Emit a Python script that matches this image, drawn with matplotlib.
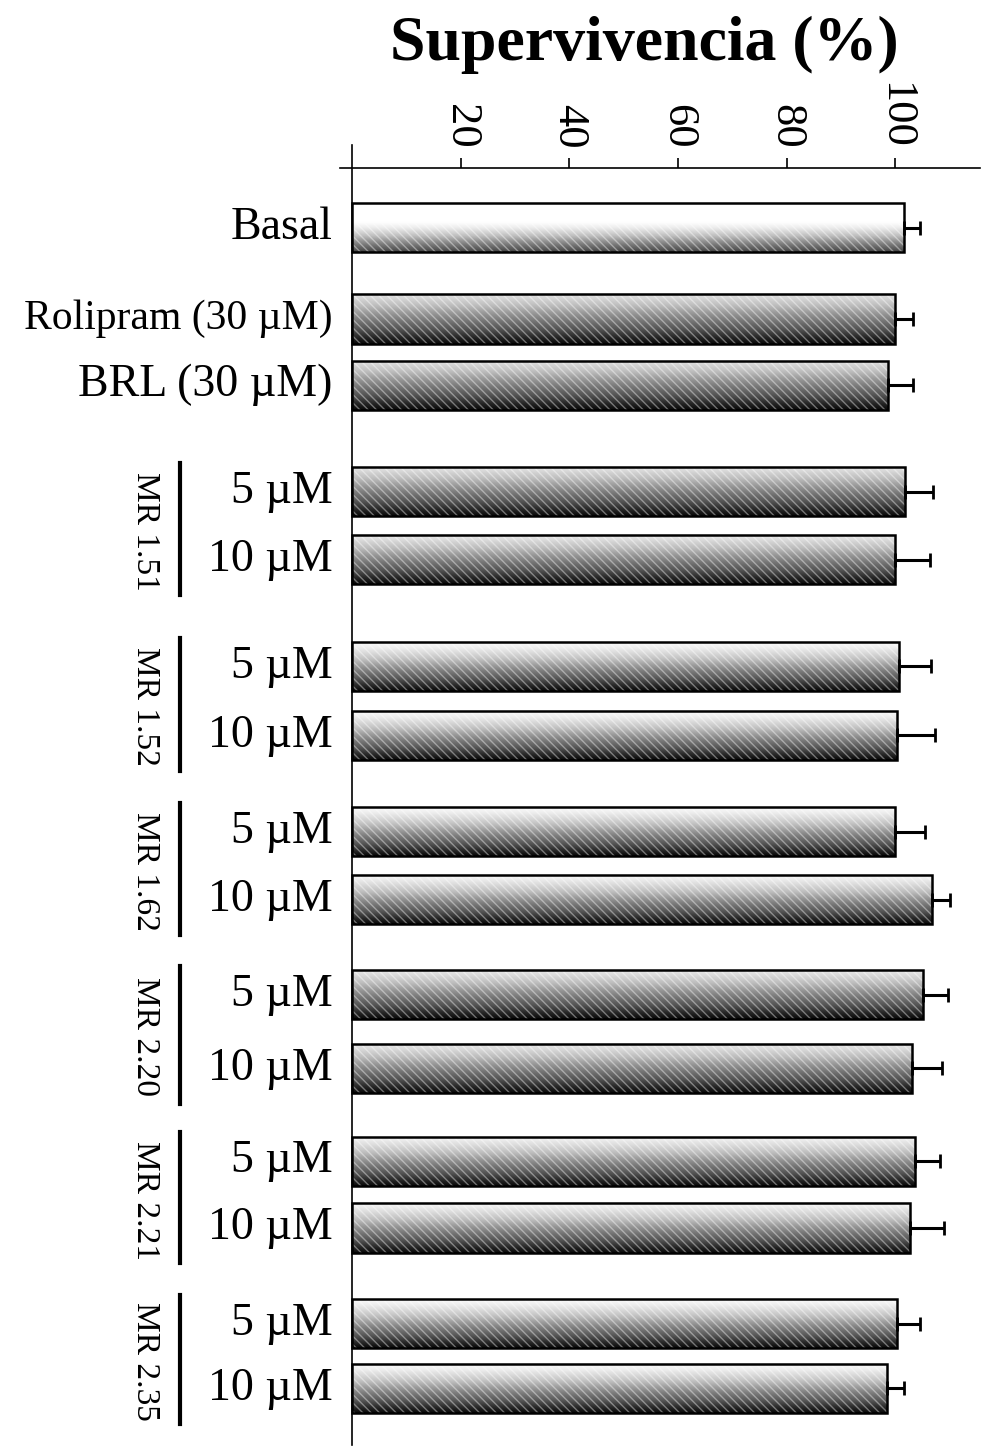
import numpy as np
import matplotlib.pyplot as plt
import matplotlib.transforms as mtransforms

plt.rcParams['font.family'] = ['Liberation Serif', 'DejaVu Serif']
plt.rcParams['hatch.linewidth'] = 1.0

# survival (%) and SEM for each treatment
labels = ['Basal', 'Rolipram (30 \u00b5M)', 'BRL (30 \u00b5M)',
          '5 \u00b5M', '10 \u00b5M', '5 \u00b5M', '10 \u00b5M',
          '5 \u00b5M', '10 \u00b5M', '5 \u00b5M', '10 \u00b5M',
          '5 \u00b5M', '10 \u00b5M', '5 \u00b5M', '10 \u00b5M']
values = [101.6, 100.0, 98.7, 101.8, 100.0, 100.6, 100.4,
          100.0, 106.8, 105.2, 103.1, 103.7, 102.8, 100.4, 98.5]
errors = [3.0, 3.3, 4.6, 5.2, 6.4, 5.9, 7.0,
          5.5, 3.3, 4.6, 5.5, 4.6, 6.1, 4.2, 3.1]
compounds = ['MR 1.51', 'MR 1.52', 'MR 1.62', 'MR 2.20', 'MR 2.21', 'MR 2.35']
xticks = [20, 40, 60, 80, 100]

# layout: bar rows (top to bottom) and the pair of rows each compound covers
ypos = [0.0, 1.34, 2.31, 3.87, 4.87, 6.43, 7.44, 8.85, 9.85,
        11.24, 12.32, 13.68, 14.66, 16.06, 17.01]
groups = [(3, 4), (5, 6), (7, 8), (9, 10), (11, 12), (13, 14)]
shade_top = [0.0, 0.2, 0.2, 0.18, 0.15, 0.02, 0.02, 0.02, 0.05,
             0.15, 0.15, 0.08, 0.08, 0.02, 0.02]
label_size = [33, 30, 33, 33, 33, 33, 33, 33, 33, 33, 33, 33, 33, 33, 33]
bar_h = 0.72

fig = plt.figure(figsize=(9.86, 14.47), dpi=100)
ax = fig.add_axes([340 / 986, 2 / 1447, 640 / 986, (1445 - 145) / 1447])

bars = ax.barh(ypos, values, height=bar_h, left=0, color='none',
               edgecolor='none', zorder=2)

t = np.linspace(0, 1, 120)[:, None]
for i, rect in enumerate(bars):
    y, v = ypos[i], values[i]
    if i == 0:
        dark = np.clip((t - 0.4) / 0.6, 0, 1) * 0.8
    else:
        dark = shade_top[i] + (0.97 - shade_top[i]) * t ** 1.0
    im = ax.imshow(dark, cmap='Greys', vmin=0, vmax=1, aspect='auto',
                   origin='upper', interpolation='bilinear',
                   extent=(0, v, y + bar_h / 2, y - bar_h / 2), zorder=2)
    im.set_clip_path(rect)

# diagonal halftone-like stripes and outline
ax.barh(ypos, values, height=bar_h, color='none',
        edgecolor=(1, 1, 1, 0.4), linewidth=0, hatch='\\\\\\\\', zorder=3)
ax.barh(ypos, values, height=bar_h, color='none', edgecolor='black',
        linewidth=1.8, zorder=3)

ax.errorbar(values, ypos, xerr=[np.zeros(len(errors)), errors], fmt='none',
            ecolor='black', elinewidth=2.2, capsize=5, capthick=2, zorder=4)

ax.set_xlim(-2.2, 115.6)
ax.set_ylim(17.84, -1.21)

for side in ['right', 'bottom']:
    ax.spines[side].set_visible(False)
ax.spines['left'].set_position(('data', 0))
ax.spines['top'].set_position(('data', -0.87))
ax.spines['left'].set_linewidth(1.2)
ax.spines['top'].set_linewidth(1.2)

ax.xaxis.tick_top()
ax.set_xticks(xticks)
ax.set_xticklabels([str(x) for x in xticks], rotation=-90, fontsize=32)
ax.tick_params(axis='x', direction='out', length=7, width=1.2, pad=7)
ax.set_yticks([])
ax.patch.set_visible(False)

fig.text(0.653, 0.969, 'Supervivencia (%)', fontsize=46, fontweight='bold',
         ha='center', va='center')

# row labels and compound brackets on the left
trans = mtransforms.blended_transform_factory(fig.transFigure, ax.transData)
for y, lab, fs in zip(ypos, labels, label_size):
    ax.text(0.337, y, lab, transform=trans, ha='right', va='center',
            fontsize=fs)

for name, (a, b) in zip(compounds, groups):
    ax.plot([0.1826, 0.1826], [ypos[a] - 0.42, ypos[b] + 0.52],
            transform=trans, color='black', lw=3, clip_on=False)
    ax.text(0.147, (ypos[a] + ypos[b]) / 2 + 0.08, name, transform=trans,
            rotation=-90, ha='center', va='center', fontsize=24)

fig.savefig('out.png', dpi=100, facecolor='white')
